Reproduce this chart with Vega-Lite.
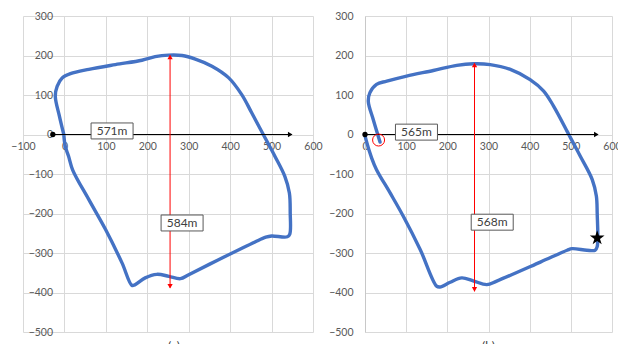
{
  "$schema": "https://vega.github.io/schema/vega-lite/v6.json",
  "background": "white",
  "padding": {"left": 10, "top": 11, "right": 0, "bottom": 0},
  "spacing": 5,
  "config": {
    "view": {"stroke": null},
    "font": "Lato",
    "axis": {
      "domain": false,
      "ticks": false,
      "grid": true,
      "gridColor": "#d9d9d9",
      "gridWidth": 1,
      "labelColor": "#595959",
      "labelFont": "Lato",
      "labelFontSize": 10.5,
      "labelOverlap": false,
      "labelFlush": false
    },
    "title": {"orient": "bottom", "fontSize": 12, "fontWeight": "normal", "font": "Lato", "color": "#404040", "offset": 3}
  },
  "datasets": {
    "pathA": [
      {"i": 0, "x": -1.5, "y": 0}, {"i": 1, "x": -12, "y": 46}, {"i": 2, "x": -22, "y": 97},
      {"i": 3, "x": -17.6, "y": 122}, {"i": 4, "x": -5.5, "y": 143}, {"i": 5, "x": 14.5, "y": 154},
      {"i": 6, "x": 59, "y": 165}, {"i": 7, "x": 123, "y": 177}, {"i": 8, "x": 187, "y": 188},
      {"i": 9, "x": 219, "y": 197}, {"i": 10, "x": 251, "y": 201}, {"i": 11, "x": 284, "y": 200},
      {"i": 12, "x": 316, "y": 191}, {"i": 13, "x": 356, "y": 173}, {"i": 14, "x": 396, "y": 144},
      {"i": 15, "x": 428, "y": 101}, {"i": 16, "x": 452, "y": 55}, {"i": 17, "x": 480, "y": 0},
      {"i": 18, "x": 508, "y": -55}, {"i": 19, "x": 532, "y": -106}, {"i": 20, "x": 543, "y": -148},
      {"i": 21, "x": 545, "y": -198}, {"i": 22, "x": 544, "y": -252}, {"i": 23, "x": 538, "y": -259},
      {"i": 24, "x": 500, "y": -257}, {"i": 25, "x": 486, "y": -260}, {"i": 26, "x": 460, "y": -272},
      {"i": 27, "x": 372, "y": -317}, {"i": 28, "x": 300, "y": -355}, {"i": 29, "x": 280, "y": -365},
      {"i": 30, "x": 252, "y": -359}, {"i": 31, "x": 223, "y": -354}, {"i": 32, "x": 195, "y": -363},
      {"i": 33, "x": 171, "y": -380}, {"i": 34, "x": 163, "y": -382}, {"i": 35, "x": 139, "y": -325},
      {"i": 36, "x": 99, "y": -240}, {"i": 37, "x": 59, "y": -165}, {"i": 38, "x": 20, "y": -90},
      {"i": 39, "x": 10, "y": -55}, {"i": 40, "x": 2, "y": -30}, {"i": 41, "x": -1.5, "y": 0}
    ],
    "pathB": [
      {"i": 0, "x": 0, "y": -2}, {"i": 1, "x": 2.4, "y": -13}, {"i": 2, "x": 16, "y": -59},
      {"i": 3, "x": 28, "y": -89}, {"i": 4, "x": 61, "y": -148}, {"i": 5, "x": 93, "y": -207},
      {"i": 6, "x": 134, "y": -291}, {"i": 7, "x": 174, "y": -384}, {"i": 8, "x": 182, "y": -386},
      {"i": 9, "x": 207, "y": -374}, {"i": 10, "x": 235, "y": -363}, {"i": 11, "x": 264, "y": -371},
      {"i": 12, "x": 296, "y": -380}, {"i": 13, "x": 320, "y": -371}, {"i": 14, "x": 426, "y": -323},
      {"i": 15, "x": 491, "y": -293}, {"i": 16, "x": 503, "y": -289}, {"i": 17, "x": 539, "y": -293},
      {"i": 18, "x": 559, "y": -293}, {"i": 19, "x": 564, "y": -284}, {"i": 20, "x": 564, "y": -198},
      {"i": 21, "x": 562, "y": -156}, {"i": 22, "x": 552, "y": -114}, {"i": 23, "x": 523, "y": -55},
      {"i": 24, "x": 499, "y": -8}, {"i": 25, "x": 491, "y": 8}, {"i": 26, "x": 458, "y": 72},
      {"i": 27, "x": 434, "y": 110}, {"i": 28, "x": 401, "y": 139}, {"i": 29, "x": 353, "y": 165},
      {"i": 30, "x": 304, "y": 177}, {"i": 31, "x": 264, "y": 179}, {"i": 32, "x": 223, "y": 175},
      {"i": 33, "x": 166, "y": 162}, {"i": 34, "x": 101, "y": 148}, {"i": 35, "x": 53, "y": 135},
      {"i": 36, "x": 28, "y": 127}, {"i": 37, "x": 12, "y": 106}, {"i": 38, "x": 8, "y": 84},
      {"i": 39, "x": 20, "y": 38}, {"i": 40, "x": 36.5, "y": -19}
    ],
    "arrowsA": [
      {"x": -28, "y": 0, "x2": 549, "y2": 0, "c": "black"},
      {"x": 255, "y": 200, "x2": 255, "y2": -388, "c": "red"}
    ],
    "headsA": [
      {"x": -28, "y": 0, "s": "dot", "c": "black"},
      {"x": 545, "y": 0, "s": "right", "c": "black"},
      {"x": 255, "y": 196, "s": "up", "c": "red"},
      {"x": 255, "y": -384, "s": "down", "c": "red"}
    ],
    "labelsA": [
      {"x": 115, "y": 9, "t": "571m"},
      {"x": 284, "y": -224, "t": "584m"}
    ],
    "arrowsB": [
      {"x": 0, "y": 0, "x2": 566, "y2": 0, "c": "black"},
      {"x": 266, "y": 180, "x2": 266, "y2": -397, "c": "red"}
    ],
    "headsB": [
      {"x": 0, "y": 0, "s": "dot", "c": "black"},
      {"x": 562, "y": 0, "s": "right", "c": "black"},
      {"x": 266, "y": 176, "s": "up", "c": "red"},
      {"x": 266, "y": -392, "s": "down", "c": "red"}
    ],
    "labelsB": [
      {"x": 125, "y": 6, "t": "565m"},
      {"x": 309, "y": -222, "t": "568m"}
    ],
    "startB": [{"x": 33, "y": -14}],
    "goalB": [{"x": 564, "y": -262}]
  },
  "hconcat": [
    {
      "width": 290,
      "height": 316,
      "title": {"text": "(a)", "dx": 6},
      "encoding": {
        "x": {"field": "x", "type": "quantitative", "title": null,
          "scale": {"domain": [-100, 600], "nice": false, "zero": false},
          "axis": {"values": [-100, 0, 100, 200, 300, 400, 500, 600], "offset": -197.5, "labelPadding": 7}},
        "y": {"field": "y", "type": "quantitative", "title": null,
          "scale": {"domain": [-500, 300], "nice": false, "zero": false},
          "axis": {"values": [-500, -400, -300, -200, -100, 0, 100, 200, 300], "offset": -41.5, "labelPadding": 12}}
      },
      "layer": [
        {"data": {"name": "pathA"}, "mark": {"type": "line", "color": "#4472C4", "strokeWidth": 3.4, "interpolate": "catmull-rom", "strokeCap": "round", "strokeJoin": "round"},
          "encoding": {"order": {"field": "i", "type": "quantitative"}}},
        {"data": {"name": "arrowsA"}, "mark": {"type": "rule", "strokeWidth": 1},
          "encoding": {"x2": {"field": "x2"}, "y2": {"field": "y2"},
            "color": {"field": "c", "type": "nominal", "scale": {"domain": ["black", "red"], "range": ["#000000", "#ff0000"]}, "legend": null}}},
        {"data": {"name": "headsA"}, "mark": {"type": "point", "filled": true, "opacity": 1, "size": 28},
          "encoding": {
            "shape": {"field": "s", "type": "nominal", "scale": {"domain": ["dot", "right", "up", "down"], "range": ["circle", "triangle-right", "triangle-up", "triangle-down"]}, "legend": null},
            "color": {"field": "c", "type": "nominal", "scale": {"domain": ["black", "red"], "range": ["#000000", "#ff0000"]}, "legend": null}}},
        {"data": {"name": "labelsA"}, "mark": {"type": "point", "shape": "M-1,-0.38L1,-0.38L1,0.38L-1,0.38Z", "size": 1764, "filled": true, "fill": "white", "stroke": "#595959", "strokeWidth": 1, "opacity": 1}},
        {"data": {"name": "labelsA"}, "mark": {"type": "text", "fontSize": 12, "font": "Lato", "color": "#404040", "align": "center", "baseline": "middle"},
          "encoding": {"text": {"field": "t"}}}
      ]
    },
    {
      "width": 247,
      "height": 316,
      "title": "(b)",
      "encoding": {
        "x": {"field": "x", "type": "quantitative", "title": null,
          "scale": {"domain": [0, 600], "nice": false, "zero": false},
          "axis": {"values": [0, 100, 200, 300, 400, 500, 600], "offset": -197.5, "labelPadding": 7}},
        "y": {"field": "y", "type": "quantitative", "title": null,
          "scale": {"domain": [-500, 300], "nice": false, "zero": false},
          "axis": {"values": [-500, -400, -300, -200, -100, 0, 100, 200, 300], "labelPadding": 12, "domain": true, "domainColor": "#c8c8c8"}}
      },
      "layer": [
        {"data": {"name": "pathB"}, "mark": {"type": "line", "color": "#4472C4", "strokeWidth": 3.4, "interpolate": "catmull-rom", "strokeCap": "round", "strokeJoin": "round"},
          "encoding": {"order": {"field": "i", "type": "quantitative"}}},
        {"data": {"name": "arrowsB"}, "mark": {"type": "rule", "strokeWidth": 1},
          "encoding": {"x2": {"field": "x2"}, "y2": {"field": "y2"},
            "color": {"field": "c", "type": "nominal", "scale": {"domain": ["black", "red"], "range": ["#000000", "#ff0000"]}, "legend": null}}},
        {"data": {"name": "headsB"}, "mark": {"type": "point", "filled": true, "opacity": 1, "size": 28},
          "encoding": {
            "shape": {"field": "s", "type": "nominal", "scale": {"domain": ["dot", "right", "up", "down"], "range": ["circle", "triangle-right", "triangle-up", "triangle-down"]}, "legend": null},
            "color": {"field": "c", "type": "nominal", "scale": {"domain": ["black", "red"], "range": ["#000000", "#ff0000"]}, "legend": null}}},
        {"data": {"name": "labelsB"}, "mark": {"type": "point", "shape": "M-1,-0.38L1,-0.38L1,0.38L-1,0.38Z", "size": 1764, "filled": true, "fill": "white", "stroke": "#595959", "strokeWidth": 1, "opacity": 1}},
        {"data": {"name": "labelsB"}, "mark": {"type": "text", "fontSize": 12, "font": "Lato", "color": "#404040", "align": "center", "baseline": "middle"},
          "encoding": {"text": {"field": "t"}}},
        {"data": {"name": "startB"}, "mark": {"type": "point", "shape": "circle", "filled": false, "stroke": "#ff0000", "strokeWidth": 1, "size": 144, "opacity": 1}},
        {"data": {"name": "goalB"}, "mark": {"type": "point", "shape": "M0,-1L0.225,-0.309L0.951,-0.309L0.363,0.118L0.588,0.809L0,0.382L-0.588,0.809L-0.363,0.118L-0.951,-0.309L-0.225,-0.309Z", "filled": true, "color": "#000000", "size": 240, "opacity": 1}}
      ]
    }
  ]
}
